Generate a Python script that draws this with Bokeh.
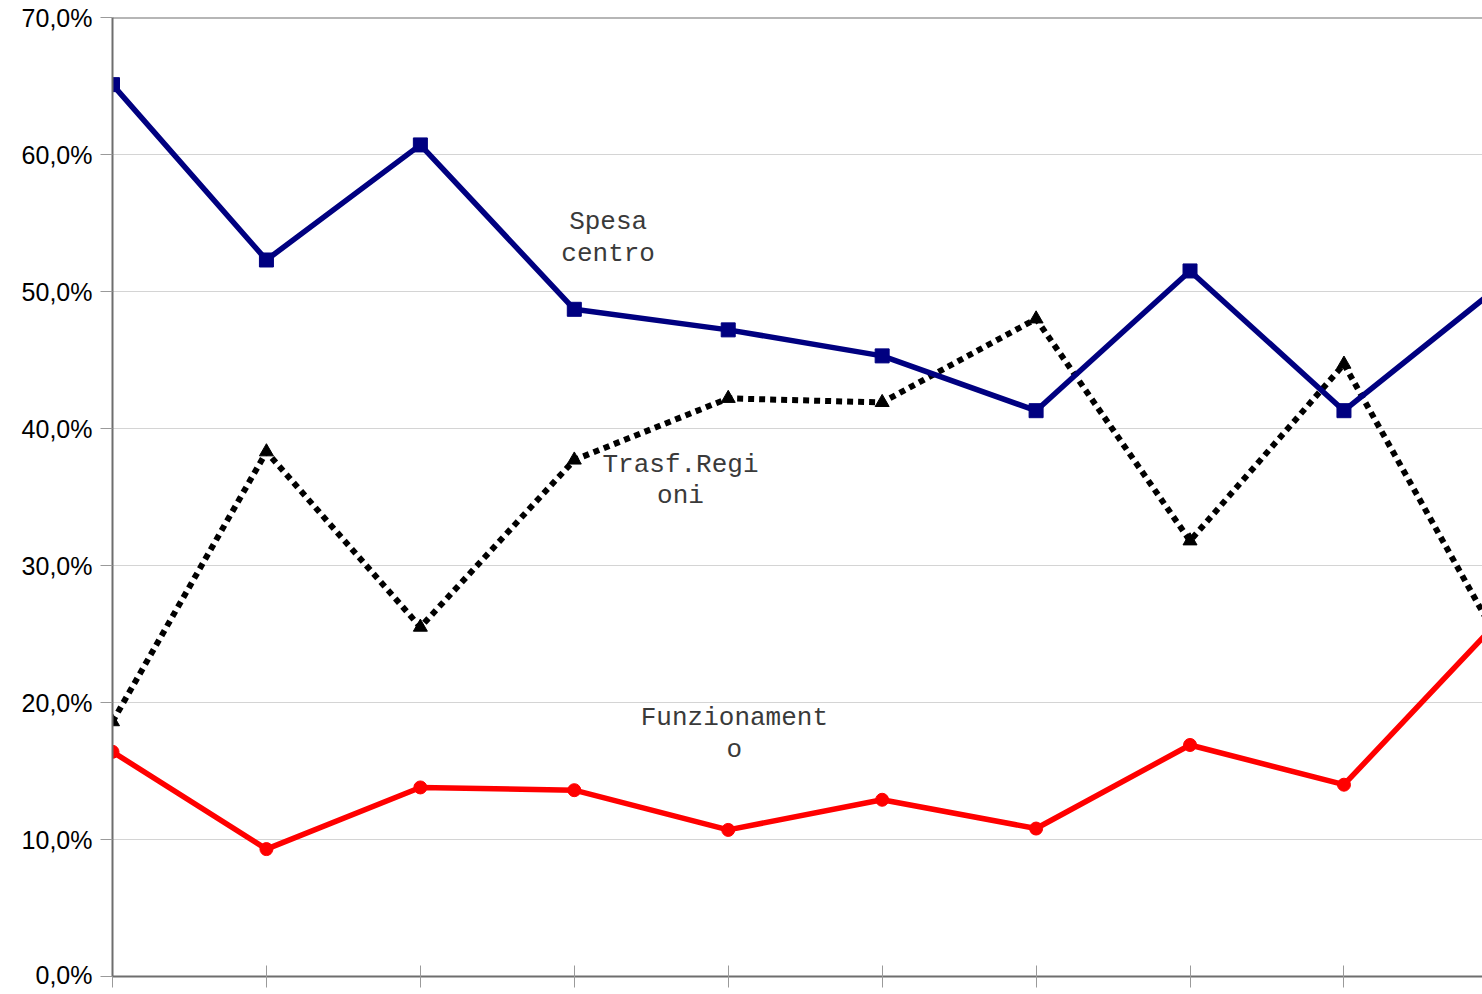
from bokeh.plotting import figure
from bokeh.models import FixedTicker, Span, ColumnDataSource
from bokeh.core.properties import value
from bokeh.embed import file_html
from bokeh.resources import INLINE

# ---- data ----
x_idx = [0, 1, 2, 3, 4, 5, 6, 7, 8, 9]
spesa_centro = [65.1, 52.3, 60.7, 48.7, 47.2, 45.3, 41.3, 51.5, 41.3, 50.3]
trasf_regioni = [18.6, 38.3, 25.5, 37.7, 42.2, 41.9, 48.0, 31.8, 44.7, 24.6]
funzionamento = [16.4, 9.3, 13.8, 13.6, 10.7, 12.9, 10.8, 16.9, 14.0, 25.9]

y_ticks = [0, 10, 20, 30, 40, 50, 60, 70]
y_tick_labels = ["0,0%", "10,0%", "20,0%", "30,0%", "40,0%", "50,0%", "60,0%", "70,0%"]

label_texts = ["Spesa\ncentro", "Trasf.Regi\noni", "Funzionament\no"]
label_x = [3.22, 3.69, 4.04]
label_y = [53.9, 36.2, 17.7]

# ---- figure ----
p = figure(width=1482, height=988, output_backend="svg", toolbar_location=None,
           x_range=(0, 8.9), y_range=(0, 70),
           min_border_left=112, min_border_top=17, min_border_bottom=12, min_border_right=0)
p.outline_line_color = None
p.background_fill_color = "white"
p.border_fill_color = "white"

# grid
p.xgrid.grid_line_color = None
p.ygrid.grid_line_color = "#d4d4d4"
p.ygrid.grid_line_width = 1

# axes
p.xaxis.ticker = FixedTicker(ticks=x_idx)
p.xaxis.major_label_text_font_size = "0px"
p.xaxis.major_label_text_color = None
p.xaxis.axis_line_color = "#6e6e6e"
p.xaxis.axis_line_width = 2
p.xaxis.major_tick_line_color = "#9a9a9a"
p.xaxis.major_tick_in = 11
p.xaxis.major_tick_out = 11
p.xaxis.minor_tick_line_color = None

p.yaxis.ticker = FixedTicker(ticks=y_ticks)
p.yaxis.major_label_overrides = {t: l for t, l in zip(y_ticks, y_tick_labels)}
p.yaxis.major_label_text_font = "Liberation Sans"
p.yaxis.major_label_text_font_size = "25px"
p.yaxis.major_label_text_color = "black"
p.yaxis.major_label_standoff = 8
p.yaxis.axis_line_color = "#6e6e6e"
p.yaxis.axis_line_width = 2
p.yaxis.major_tick_line_color = "#9a9a9a"
p.yaxis.major_tick_in = 0
p.yaxis.major_tick_out = 12
p.yaxis.minor_tick_line_color = None

# top frame line
p.add_layout(Span(location=70, dimension="width", line_color="#6e6e6e", line_width=2))

# series
p.line(x_idx, trasf_regioni, line_color="black", line_width=6, line_dash="6 5")
p.scatter(x_idx, trasf_regioni, marker="triangle", size=14, fill_color="black", line_color="black")

p.line(x_idx, funzionamento, line_color="#ff0000", line_width=5.5)
p.scatter(x_idx, funzionamento, marker="circle", size=13, fill_color="#ff0000", line_color="#ff0000")

p.line(x_idx, spesa_centro, line_color="#000080", line_width=5.5)
p.scatter(x_idx, spesa_centro, marker="square", size=14, fill_color="#000080", line_color="#000080")

# labels
src = ColumnDataSource(dict(x=label_x, y=label_y, text=label_texts))
p.text(x="x", y="y", text="text", source=src, text_font=value("Liberation Mono"),
       text_font_size="26px", text_color="#3a3a3a", text_align="center",
       text_baseline="middle", text_line_height=1.05)

open("out.html", "w").write(file_html(p, INLINE))
